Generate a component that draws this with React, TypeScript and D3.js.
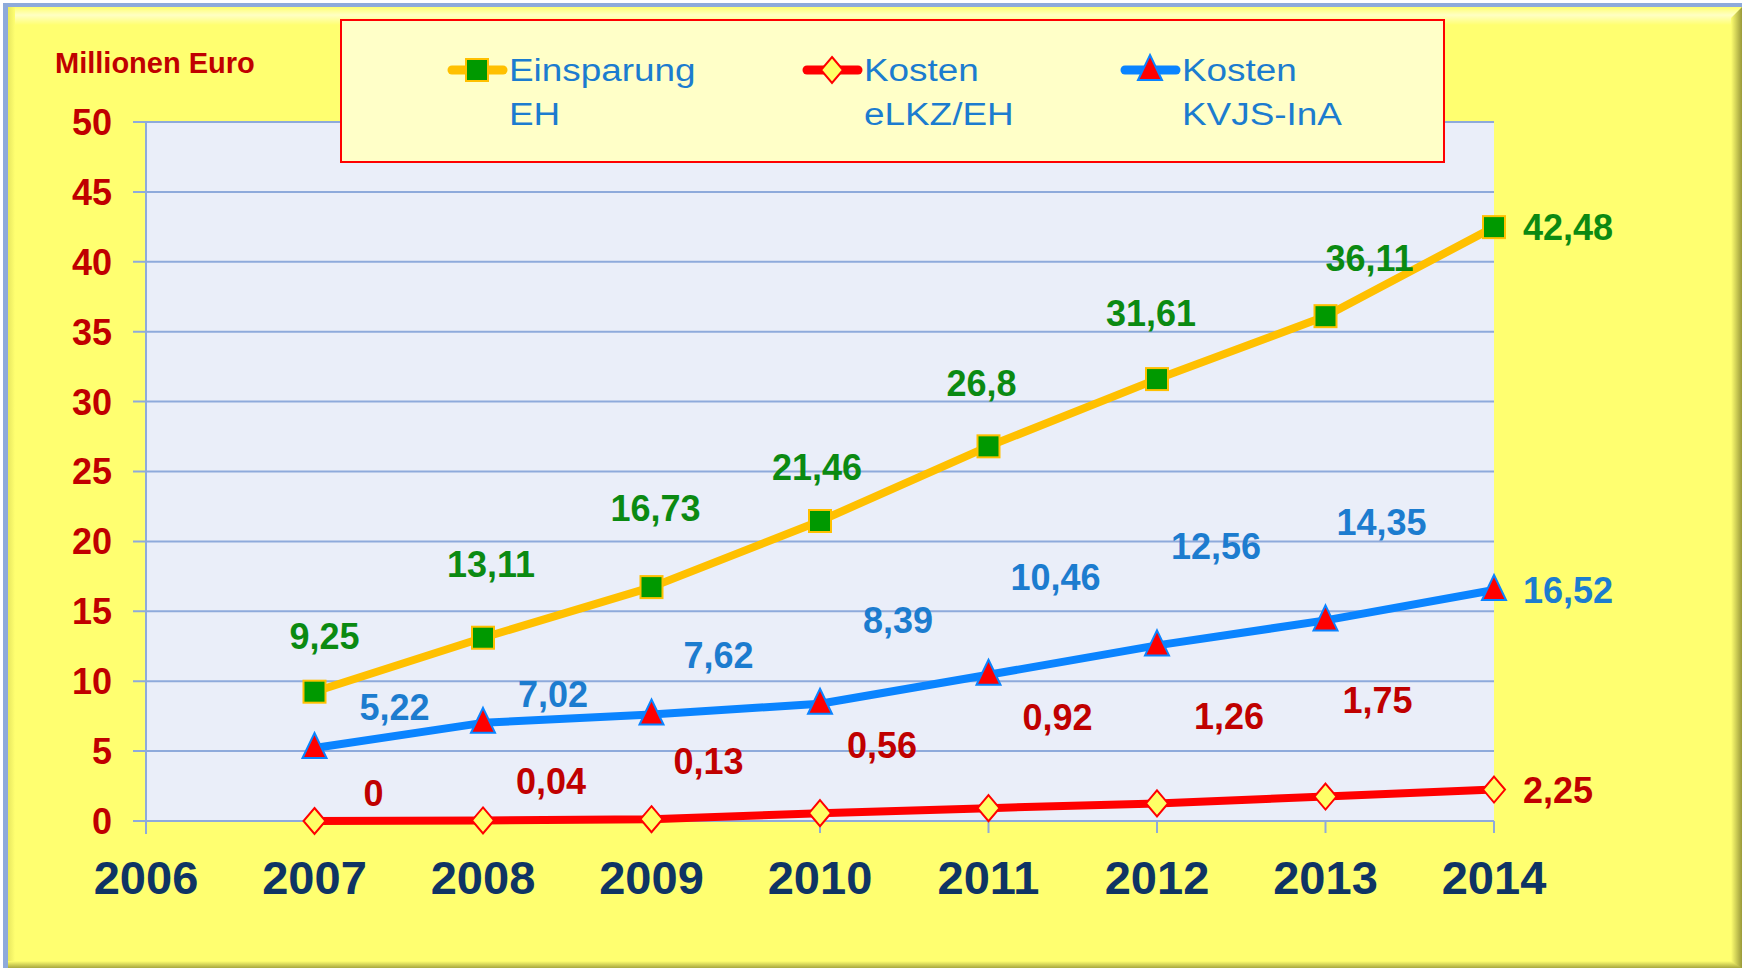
import React, { useEffect, useRef } from 'react';
import * as d3 from 'd3';

// chart data
const years = [2007, 2008, 2009, 2010, 2011, 2012, 2013, 2014];
const axisYears = [2006, 2007, 2008, 2009, 2010, 2011, 2012, 2013, 2014];
const yTicks = [0, 5, 10, 15, 20, 25, 30, 35, 40, 45, 50];
const einsparungEH = [9.25, 13.11, 16.73, 21.46, 26.8, 31.61, 36.11, 42.48];
const kostenELKZ = [0, 0.04, 0.13, 0.56, 0.92, 1.26, 1.75, 2.25];
const kostenKVJS = [5.22, 7.02, 7.62, 8.39, 10.46, 12.56, 14.35, 16.52];
const legendLabels = [['Einsparung', 'EH'], ['Kosten', 'eLKZ/EH'], ['Kosten', 'KVJS-InA']];
const unitLabel = 'Millionen Euro';

// hand-placed data label offsets (px from the point), like in the original
const einsparungOffsets = [[10, -56], [8, -74], [4, -79], [-3, -54], [-7, -63], [-6, -66], [44, -58], [74, 0]];
const kvjsOffsets = [[80, -41], [70, -29], [67, -59], [78, -84], [67, -98], [59, -99], [56, -98], [74, 0]];
const elkzOffsets = [[59, -28], [68, -39], [57, -58], [62, -68], [69, -91], [72, -87], [52, -96], [64, 0]];

const W = 1742;
const H = 968;
const FONT = '"Liberation Sans", Arial, sans-serif';

const fmt = (v: number) => String(v).replace('.', ',');

const App = () => {
  const svgRef = useRef<SVGSVGElement>(null);

  useEffect(() => {
    const svg = d3.select(svgRef.current);
    svg.selectAll('*').remove();

    const x = d3.scaleLinear().domain([2006, 2014]).range([146, 1494]);
    const y = d3.scaleLinear().domain([0, 50]).range([821, 122]);

    // gradients for the frame bevel
    const defs = svg.append('defs');
    const gTop = defs.append('linearGradient').attr('id', 'gTop').attr('x1', 0).attr('y1', 0).attr('x2', 0).attr('y2', 1);
    gTop.append('stop').attr('offset', '0%').attr('stop-color', '#ffff70');
    gTop.append('stop').attr('offset', '45%').attr('stop-color', '#ffffc4');
    gTop.append('stop').attr('offset', '100%').attr('stop-color', '#ffff70');
    const gRight = defs.append('linearGradient').attr('id', 'gRight').attr('x1', 0).attr('y1', 0).attr('x2', 1).attr('y2', 0);
    gRight.append('stop').attr('offset', '0%').attr('stop-color', '#ffff70');
    gRight.append('stop').attr('offset', '100%').attr('stop-color', '#9a9a3a');
    const gBottom = defs.append('linearGradient').attr('id', 'gBottom').attr('x1', 0).attr('y1', 0).attr('x2', 0).attr('y2', 1);
    gBottom.append('stop').attr('offset', '0%').attr('stop-color', '#ffff70');
    gBottom.append('stop').attr('offset', '100%').attr('stop-color', '#a8a840');
    const gLeft = defs.append('linearGradient').attr('id', 'gLeft').attr('x1', 0).attr('y1', 0).attr('x2', 1).attr('y2', 0);
    gLeft.append('stop').attr('offset', '0%').attr('stop-color', '#e8e860');
    gLeft.append('stop').attr('offset', '100%').attr('stop-color', '#ffff70');

    // frame
    svg.append('rect').attr('width', W).attr('height', H).attr('fill', '#ffffff');
    svg.append('rect').attr('x', 3).attr('y', 3).attr('width', W - 3).attr('height', H - 3).attr('fill', '#8eaadb');
    svg.append('rect').attr('x', 8).attr('y', 7).attr('width', W - 8).attr('height', H - 7).attr('fill', '#ffff70');
    svg.append('rect').attr('x', 8).attr('y', 7).attr('width', W - 8).attr('height', 18).attr('fill', 'url(#gTop)');
    svg.append('rect').attr('x', 8).attr('y', 7).attr('width', 7).attr('height', H - 7).attr('fill', 'url(#gLeft)');
    svg.append('rect').attr('x', 8).attr('y', H - 7).attr('width', W - 8).attr('height', 7).attr('fill', 'url(#gBottom)');
    svg.append('path')
      .attr('d', `M${W - 11},18 L${W},7 L${W},${H} L${W - 11},${H - 7} Z`)
      .attr('fill', 'url(#gRight)');

    // plot area
    svg.append('rect')
      .attr('x', x(2006)).attr('y', y(50))
      .attr('width', x(2014) - x(2006)).attr('height', y(0) - y(50))
      .attr('fill', '#eaeef9');

    // gridlines + y ticks
    svg.append('g').selectAll('line').data(yTicks).join('line')
      .attr('x1', x(2006) - 13).attr('x2', x(2014))
      .attr('y1', d => y(d)).attr('y2', d => y(d))
      .attr('stroke', '#8eaadb').attr('stroke-width', 2);

    // left axis line
    svg.append('line')
      .attr('x1', x(2006)).attr('x2', x(2006))
      .attr('y1', y(50)).attr('y2', y(0) + 13)
      .attr('stroke', '#8eaadb').attr('stroke-width', 2);

    // x ticks
    svg.append('g').selectAll('line').data(axisYears).join('line')
      .attr('x1', d => x(d)).attr('x2', d => x(d))
      .attr('y1', y(0)).attr('y2', y(0) + 12)
      .attr('stroke', '#8eaadb').attr('stroke-width', 2);

    // y tick labels
    svg.append('g').selectAll('text').data(yTicks).join('text')
      .attr('x', 112).attr('y', d => y(d)).attr('dy', '0.36em')
      .attr('text-anchor', 'end')
      .attr('font-family', FONT).attr('font-weight', 'bold').attr('font-size', 36)
      .attr('fill', '#c00000')
      .text(d => d);

    // x labels
    svg.append('g').selectAll('text').data(axisYears).join('text')
      .attr('x', d => x(d)).attr('y', 894)
      .attr('text-anchor', 'middle')
      .attr('font-family', FONT).attr('font-weight', 'bold').attr('font-size', 47)
      .attr('fill', '#0f3464')
      .text(d => d);

    // unit label
    svg.append('text')
      .attr('x', 55).attr('y', 73)
      .attr('font-family', FONT).attr('font-weight', 'bold').attr('font-size', 29)
      .attr('fill', '#c00000')
      .text(unitLabel);

    const line = d3.line<number>().x((_, i) => x(years[i])).y(d => y(d));

    const series = [
      { values: kostenELKZ, color: '#ff0000', offsets: elkzOffsets, labelColor: '#c00000', marker: 'diamond' },
      { values: kostenKVJS, color: '#0a84ff', offsets: kvjsOffsets, labelColor: '#1c7ccf', marker: 'triangle' },
      { values: einsparungEH, color: '#ffc000', offsets: einsparungOffsets, labelColor: '#0b8a12', marker: 'square' },
    ];

    const drawMarker = (g: any, kind: string, cx: number, cy: number) => {
      if (kind === 'square') {
        g.append('rect')
          .attr('x', cx - 11).attr('y', cy - 11).attr('width', 22).attr('height', 22)
          .attr('fill', '#009900').attr('stroke', '#ffc000').attr('stroke-width', 2);
      } else if (kind === 'diamond') {
        g.append('path')
          .attr('d', `M${cx},${cy - 13} L${cx + 11},${cy} L${cx},${cy + 13} L${cx - 11},${cy} Z`)
          .attr('fill', '#ffff66').attr('stroke', '#ff0000').attr('stroke-width', 2);
      } else {
        g.append('path')
          .attr('d', `M${cx},${cy - 15} L${cx + 12},${cy + 10} L${cx - 12},${cy + 10} Z`)
          .attr('fill', '#ff0000').attr('stroke', '#0a84ff').attr('stroke-width', 2).attr('stroke-linejoin', 'miter');
      }
    };

    series.forEach(s => {
      svg.append('path')
        .attr('d', line(s.values))
        .attr('fill', 'none')
        .attr('stroke', s.color).attr('stroke-width', 8)
        .attr('stroke-linejoin', 'round');
    });

    series.forEach(s => {
      const g = svg.append('g');
      s.values.forEach((v, i) => drawMarker(g, s.marker, x(years[i]), y(v)));
    });

    series.forEach(s => {
      svg.append('g').selectAll('text').data(s.values).join('text')
        .attr('x', (d, i) => x(years[i]) + s.offsets[i][0])
        .attr('y', (d, i) => y(d) + s.offsets[i][1])
        .attr('dy', '0.36em')
        .attr('text-anchor', 'middle')
        .attr('font-family', FONT).attr('font-weight', 'bold').attr('font-size', 36)
        .attr('fill', s.labelColor)
        .text(d => fmt(d));
    });

    // legend
    const legend = svg.append('g');
    legend.append('rect')
      .attr('x', 341).attr('y', 20).attr('width', 1103).attr('height', 142)
      .attr('fill', '#ffffc8').attr('stroke', '#ff0000').attr('stroke-width', 2);

    const legendItems = [
      { x: 448, color: '#ffc000', marker: 'square' },
      { x: 803, color: '#ff0000', marker: 'diamond' },
      { x: 1121, color: '#0a84ff', marker: 'triangle' },
    ];
    legendItems.forEach((item, i) => {
      legend.append('line')
        .attr('x1', item.x + 4).attr('x2', item.x + 55)
        .attr('y1', 70).attr('y2', 70)
        .attr('stroke', item.color).attr('stroke-width', 9).attr('stroke-linecap', 'round');
      drawMarker(legend, item.marker, item.x + 29, 70);
      const t = legend.append('text')
        .attr('transform', `translate(${item.x + 61},81) scale(1.19,1)`)
        .attr('font-family', FONT).attr('font-size', 31)
        .attr('fill', '#1c7ccf');
      t.append('tspan').attr('x', 0).attr('y', 0).text(legendLabels[i][0]);
      t.append('tspan').attr('x', 0).attr('y', 44).text(legendLabels[i][1]);
    });
  }, []);

  return (
    <div style={{ position: 'absolute', left: 0, top: 0 }}>
      <svg ref={svgRef} width={W} height={H} style={{ display: 'block' }} />
    </div>
  );
};

export default App;
